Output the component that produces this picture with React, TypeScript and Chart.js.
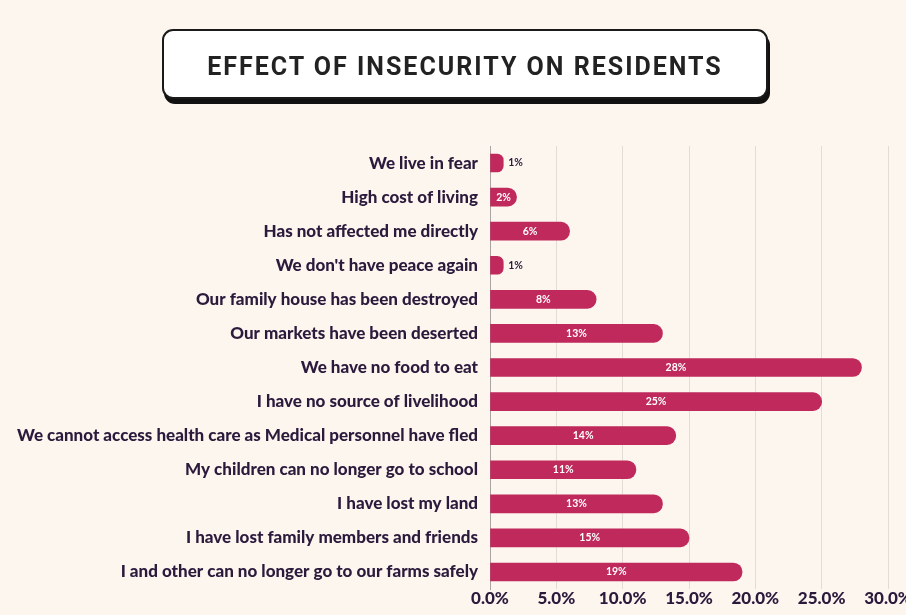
import React, { useEffect, useRef } from "react";
import { Chart, registerables } from "chart.js";

Chart.register(...registerables);

const categories = [
  "We live in fear",
  "High cost of living",
  "Has not affected me directly",
  "We don't have peace again",
  "Our family house has been destroyed",
  "Our markets have been deserted",
  "We have no food to eat",
  "I have no source of livelihood",
  "We cannot access health care as Medical personnel have fled",
  "My children can no longer go to school",
  "I have lost my land",
  "I have lost family members and friends",
  "I and other can no longer go to our farms safely",
];
const values = [1, 2, 6, 1, 8, 13, 28, 25, 14, 11, 13, 15, 19];
const xTicks = [0, 5, 10, 15, 20, 25, 30];
const title = "EFFECT OF INSECURITY ON RESIDENTS";

const BG = "#FCF6EF";
const BAR = "#BF295B";
const TEXT = "#2C1A3C";
const FONT = "Lato, 'Open Sans', sans-serif";

const valueLabels = {
  id: "valueLabels",
  afterDatasetsDraw(chart: any) {
    const ctx = chart.ctx;
    const meta = chart.getDatasetMeta(0);
    ctx.save();
    ctx.font = `bold 10.5px ${FONT}`;
    ctx.textBaseline = "middle";
    meta.data.forEach((bar: any, i: number) => {
      const v = values[i];
      const label = `${v}%`;
      const w = bar.x - bar.base;
      const tw = ctx.measureText(label).width;
      if (w > tw + 4) {
        ctx.fillStyle = "#ffffff";
        ctx.textAlign = "center";
        ctx.fillText(label, (bar.x + bar.base) / 2, bar.y);
      } else {
        ctx.fillStyle = TEXT;
        ctx.textAlign = "left";
        ctx.fillText(label, bar.x + 5, bar.y);
      }
    });
    ctx.restore();
  },
};

export default function App() {
  const ref = useRef<HTMLCanvasElement | null>(null);
  useEffect(() => {
    if (!ref.current) return;
    const chart = new Chart(ref.current, {
      type: "bar",
      data: {
        labels: categories,
        datasets: [
          {
            data: values,
            backgroundColor: BAR,
            borderRadius: 9,
            borderSkipped: "start",
            barThickness: 18,
          },
        ],
      },
      options: {
        indexAxis: "y",
        animation: false,
        responsive: false,
        maintainAspectRatio: false,
        layout: { padding: { top: 146, bottom: 2, left: 0, right: 18 } },
        plugins: { legend: { display: false }, tooltip: { enabled: false } },
        scales: {
          x: {
            min: 0,
            max: 30,
            afterBuildTicks(scale: any) {
              scale.ticks = xTicks.map((v) => ({ value: v }));
            },
            afterFit(scale: any) {
              scale.paddingRight = 0;
              scale.paddingLeft = 0;
              scale.height = 24;
            },
            grid: { color: "#E2DCD7", lineWidth: 1, drawTicks: false },
            border: { display: false },
            ticks: {
              color: TEXT,
              font: { family: FONT, size: 17, weight: 900 },
              padding: -1,
              callback: (v: any) => `${Number(v).toFixed(1)}%`,
              maxRotation: 0,
            },
          },
          y: {
            afterFit(scale: any) {
              scale.width = 490;
            },
            grid: { display: false, drawTicks: false },
            border: { display: true, color: "#A9A4A2", width: 1 },
            ticks: {
              color: TEXT,
              font: { family: FONT, size: 17, weight: 900 },
              padding: 12,
            },
          },
        },
      },
      plugins: [valueLabels],
    });
    return () => chart.destroy();
  }, []);

  return (
    <div
      style={{
        position: "fixed",
        left: 0,
        top: 0,
        width: 906,
        height: 615,
        background: BG,
        overflow: "hidden",
      }}
    >
      <canvas ref={ref} width={906} height={615} style={{ position: "absolute", left: 0, top: 0 }} />
      <div
        style={{
          position: "absolute",
          left: 162,
          top: 29,
          width: 606,
          height: 70,
          boxSizing: "border-box",
          background: "#ffffff",
          border: "2px solid #1a1a1a",
          borderRadius: 11,
          boxShadow: "2px 5px 0 #111111",
          display: "flex",
          alignItems: "center",
          justifyContent: "center",
          paddingTop: 4,
          fontFamily: "Roboto, 'Liberation Sans', sans-serif",
          fontWeight: 700,
          fontSize: 25,
          letterSpacing: 2,
          color: "#222222",
        }}
      >
        {title}
      </div>
    </div>
  );
}
